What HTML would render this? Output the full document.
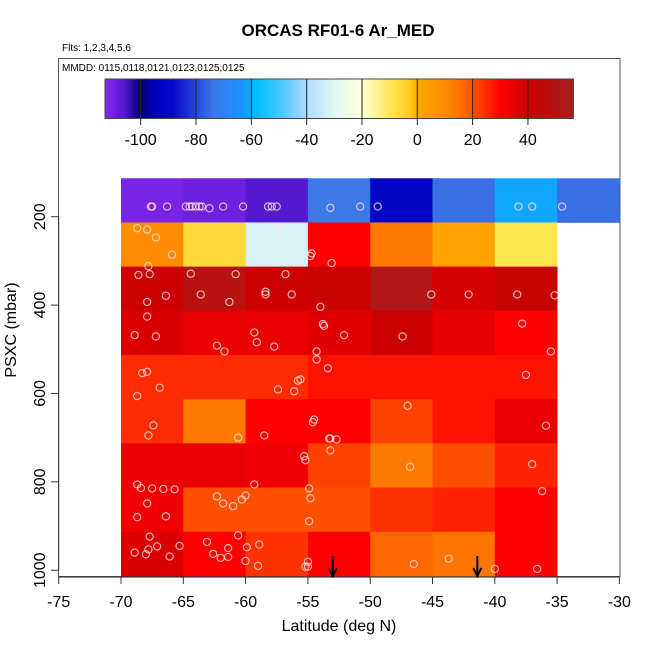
<!DOCTYPE html>
<html><head><meta charset="utf-8"><style>
html,body{margin:0;padding:0;background:#fff}
svg{display:block;font-family:"Liberation Sans",Arial,sans-serif}
</style></head><body>
<svg id="chart" width="650" height="650" viewBox="0 0 650 650" xmlns="http://www.w3.org/2000/svg">
<text x="338" y="36" text-anchor="middle" font-size="17" font-weight="bold">ORCAS RF01-6 Ar_MED</text>
<text x="62" y="51" font-size="10">Flts: 1,2,3,4,5,6</text>
<rect x="58.5" y="58.5" width="561.5" height="518" fill="none" stroke="#555" stroke-width="1"/>
<text x="62" y="71" font-size="10">MMDD: 0115,0118,0121,0123,0125,0125</text>
<g id="cbar"></g>
<g id="cells"></g>
<g id="pts"></g>
<g id="axes"></g>
<text x="339" y="631" text-anchor="middle" font-size="16">Latitude (deg N)</text>
<text transform="translate(16,330) rotate(-90)" text-anchor="middle" font-size="16">PSXC (mbar)</text>
</svg>
<script>
// ---- data ----
const latEdges = [-70,-65,-60,-55,-50,-45,-40,-35,-30];
const presEdges = [113,213,313,413,513,613,713,813,913,1013];
const row1 = [-110.5,-109,-106,-74,-92,-75,-61,-75];
const row2 = [10,-6,-32,30,14,3,-9,null];
const row3 = [40,48,40,41,52,38,42,null];
const row4 = [37,34,34,36,40,35,30,null];
const row5 = [25,25,25,28,28,28,28,null];
const row6 = [25,14,30,30,22,28,34,null];
const row7 = [34,34,33,22,14,20,26,null];
const row8 = [33,20,20,20,24,26,30,null];
const row9 = [37,30,24,30,17,15,30,null];
const cellRows = [row1,row2,row3,row4,row5,row6,row7,row8,row9];
const ptLat = [-67.6,-67.5,-66.3,-64.8,-64.5,-64.3,-64.0,-63.7,-63.5,-62.9,-61.8,-60.2,-58.2,-57.9,-57.5,-53.2,-50.8,-49.4,-38.1,-37.0,-34.6,
 -68.7,-67.9,-67.2,-65.9,-67.8,-57.2,-54.7,-54.8,-53.1,
 -68.6,-67.7,-64.4,-60.8,-56.8,-66.4,-63.6,-61.3,-67.9,-58.4,-58.4,-56.3,-54.0,-45.1,-42.1,-38.2,-35.2,
 -67.9,-68.9,-67.2,-59.3,-59.1,-62.3,-61.7,-57.7,-53.8,-53.7,-52.1,-47.4,-37.8,-35.5,-54.3,-54.3,-53.4,
 -68.3,-67.9,-66.9,-68.7,-57.4,-56.1,-55.8,-55.6,-37.5,
 -67.4,-67.8,-60.6,-58.5,-54.5,-54.6,-53.3,-53.2,-52.7,-47.0,-35.9,
 -53.2,-55.3,-55.2,-46.8,-37.0,-68.7,-68.4,-67.5,-66.6,-65.7,-59.3,-54.9,
 -62.3,-61.8,-61.0,-60.3,-60.0,-67.9,-68.7,-66.4,-54.8,-54.9,-36.2,
 -67.7,-68.9,-68.0,-67.8,-67.1,-66.1,-65.3,-63.1,-62.6,-62.0,-61.4,-61.4,-60.6,-59.9,-58.9,-60.0,-59.0,-55.0,-55.2,-55.0,-46.5,-43.7,-40.0,-36.6];
const ptPres = [177,177,177,177,177,177,177,177,177,181,177,177,177,177,177,180,177,177,177,177,177,
 226,229,247,286,312,228,283,289,305,
 332,330,329,330,330,379,376,393,393,370,376,376,404,376,376,376,378,
 426,468,471,462,484,492,505,494,443,447,468,471,442,505,505,523,543,
 554,551,587,606,591,595,571,568,558,
 672,695,700,695,659,665,702,702,704,628,673,
 729,742,751,766,760,806,814,815,816,817,806,815,
 833,849,855,840,831,849,880,878,837,889,821,
 924,960,964,953,946,969,945,936,963,972,970,950,921,948,942,979,990,981,992,992,986,974,997,997];
const arrowLat = [-53.0,-41.4];
const xTicks = [-75,-70,-65,-60,-55,-50,-45,-40,-35,-30];
const yTicks = [200,400,600,800,1000];
const cbTicks = [-100,-80,-60,-40,-20,0,20,40];
const cbMin = -112.9, cbMax = 56.4;

// ---- scales ----
const X = lat => 121 + (lat + 70) * 12.46;
const Y = p => 216.7 + (p - 200) * 0.4419;
const CB = v => 140.7 + (v + 100) * 2.766;
const stops = [[-112.9,[140,40,240]],[-106,[85,25,208]],[-100,[0,0,110]],[-95,[0,0,190]],[-88,[10,10,205]],[-80,[40,70,220]],[-74,[60,120,230]],[-64,[30,144,255]],[-58,[0,190,255]],[-48,[90,200,255]],[-40,[175,220,255]],[-30,[225,248,240]],[-20,[255,255,215]],[-10,[255,232,90]],[-3,[255,205,30]],[0,[255,170,0]],[10,[255,140,0]],[15,[255,115,0]],[20,[255,80,0]],[26,[255,35,0]],[30,[255,0,0]],[40,[204,0,0]],[56.4,[165,32,32]]];
function col(v){
  if(v<=stops[0][0]) v=stops[0][0];
  for(let i=1;i<stops.length;i++){
    if(v<=stops[i][0]){
      const a=stops[i-1],b=stops[i],t=(v-a[0])/(b[0]-a[0]);
      const c=a[1].map((x,k)=>Math.round(x+(b[1][k]-x)*t));
      return `rgb(${c[0]},${c[1]},${c[2]})`;
    }
  }
  const c=stops[stops.length-1][1];return `rgb(${c[0]},${c[1]},${c[2]})`;
}
const NS='http://www.w3.org/2000/svg';
function mk(tag,attrs,parent){const e=document.createElementNS(NS,tag);for(const k in attrs)e.setAttribute(k,attrs[k]);parent.appendChild(e);return e;}

// colorbar
const cbar=document.getElementById('cbar');
const cbX0=CB(cbMin), cbX1=CB(cbMax);
for(let i=0;i<340;i++){
  const v=cbMin+(cbMax-cbMin)*(i+0.5)/340;
  const x=cbX0+(cbX1-cbX0)*i/340;
  const r=mk('rect',{x:x,y:79,width:(cbX1-cbX0)/340+0.6,height:39.5,fill:col(v)},cbar);
  
  
}
const cbBox=mk('rect',{x:cbX0,y:79,width:cbX1-cbX0,height:39.5,fill:'none',stroke:'#444','stroke-width':1},cbar);


cbTicks.forEach(t=>{
  const l=mk('line',{x1:CB(t),x2:CB(t),y1:79,y2:125,stroke:'#222','stroke-width':1},cbar);
  
  
  const tx=mk('text',{x:CB(t),y:145,'text-anchor':'middle','font-size':16},cbar);
  
  
  tx.textContent=t;
});

// cells
const cells=document.getElementById('cells');
cellRows.forEach((row,r)=>{
  row.forEach((v,c)=>{
    if(v===null) return;
    const x0=X(latEdges[c]),x1=X(latEdges[c+1]),y0=Y(presEdges[r]),y1=Y(presEdges[r+1]);
    const e=mk('rect',{x:x0,y:y0,width:x1-x0+0.4,height:y1-y0+0.4,fill:col(v)},cells);
    
    
  });
});

// points
const pts=document.getElementById('pts');
ptLat.forEach((la,i)=>{
  const c=mk('circle',{cx:X(la),cy:Y(ptPres[i]),r:3.6,fill:'none',stroke:'rgba(255,225,225,0.85)','stroke-width':1.1},pts);
  
  
});

// axes
const ax=document.getElementById('axes');
const xa=mk('line',{x1:X(-75),x2:X(-30),y1:577,y2:577,stroke:'#222','stroke-width':1},ax);


xTicks.forEach(t=>{
  const l=mk('line',{x1:X(t),x2:X(t),y1:577,y2:584,stroke:'#333','stroke-width':1},ax);
  
  
  const tx=mk('text',{x:X(t),y:607,'text-anchor':'middle','font-size':16},ax);
  
  
  tx.textContent=t;
});
const ya=mk('line',{x1:58.7,x2:58.7,y1:Y(200),y2:Y(1000),stroke:'#333','stroke-width':1},ax);


yTicks.forEach(t=>{
  const l=mk('line',{x1:51,x2:58.7,y1:Y(t),y2:Y(t),stroke:'#333','stroke-width':1},ax);
  
  
  const tx=mk('text',{transform:`translate(45,${Y(t)}) rotate(-90)`,'text-anchor':'middle','font-size':16},ax);
  
  
  tx.textContent=t;
});
arrowLat.forEach(a=>{
  const x=X(a);
  const l=mk('line',{x1:x,x2:x,y1:556,y2:575,stroke:'#000','stroke-width':2},ax);
  
  
  const h=mk('polyline',{points:`${x-4},${568} ${x},${576} ${x+4},${568}`,fill:'none',stroke:'#000','stroke-width':2},ax);
  
  
});
</script>
</body></html>
